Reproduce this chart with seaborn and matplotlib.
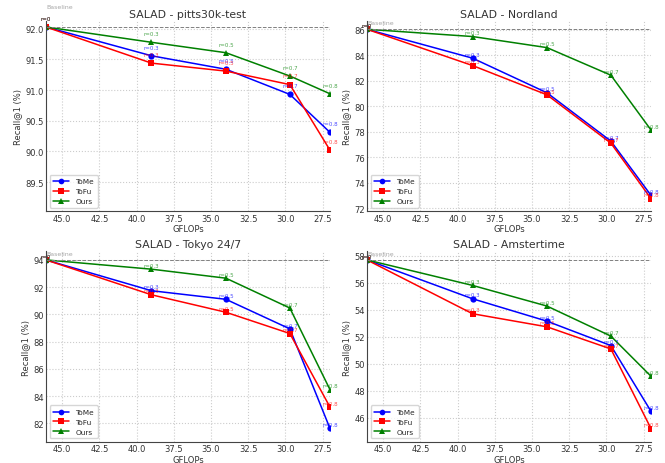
import numpy as np
import pandas as pd
import seaborn as sns
import matplotlib
matplotlib.use("Agg")
import matplotlib.pyplot as plt

# GFLOPs for each merge ratio (r = 0, 0.3, 0.5, 0.7, 0.8)
gflops = [46.1, 39.0, 34.0, 29.7, 27.0]
ratios = ["0", "0.3", "0.5", "0.7", "0.8"]

datasets = ["pitts30k-test", "Nordland", "Tokyo 24/7", "Amstertime"]
baseline = [92.03, 86.05, 94.0, 57.7]

tome_pitts = [92.03, 91.56, 91.34, 90.93, 90.31]
tofu_pitts = [92.03, 91.44, 91.31, 91.09, 90.02]
ours_pitts = [92.03, 91.78, 91.61, 91.23, 90.94]

tome_nord = [86.05, 83.78, 81.06, 77.26, 72.99]
tofu_nord = [86.05, 83.20, 80.90, 77.10, 72.73]
ours_nord = [86.05, 85.48, 84.61, 82.44, 78.13]

tome_tokyo = [94.0, 91.74, 91.11, 88.94, 81.63]
tofu_tokyo = [94.0, 91.44, 90.16, 88.60, 83.20]
ours_tokyo = [94.0, 93.32, 92.66, 90.47, 84.48]

tome_ams = [57.7, 54.82, 53.16, 51.35, 46.47]
tofu_ams = [57.7, 53.71, 52.74, 51.10, 45.19]
ours_ams = [57.7, 55.81, 54.28, 52.05, 49.07]

results = [
    [tome_pitts, tofu_pitts, ours_pitts],
    [tome_nord, tofu_nord, ours_nord],
    [tome_tokyo, tofu_tokyo, ours_tokyo],
    [tome_ams, tofu_ams, ours_ams],
]
methods = ["ToMe", "ToFu", "Ours"]
colors = ["blue", "red", "green"]
markers = ["o", "s", "^"]

sns.set_style("whitegrid", {"grid.linestyle": ":", "grid.color": "#cccccc",
                            "axes.edgecolor": "#444444"})
plt.rcParams["font.family"] = ["DejaVu Sans"]

fig, axes = plt.subplots(2, 2, figsize=(6.65, 4.64), dpi=100)
fig.subplots_adjust(left=0.069, right=0.979, top=0.953, bottom=0.045,
                    wspace=0.13, hspace=0.21)

for ax, name, base, res in zip(axes.flat, datasets, baseline, results):
    for m, vals, c, mk in zip(methods, res, colors, markers):
        df = pd.DataFrame({"GFLOPs": gflops, "Recall": vals})
        sns.lineplot(data=df, x="GFLOPs", y="Recall", color=c, marker=mk,
                     markersize=4.5, markeredgewidth=0, linewidth=1.1,
                     label=m, ax=ax)
        for x, y, r in zip(gflops, vals, ratios):
            ax.text(x, y + 0.1, "r=" + r, color=c, alpha=0.7, fontsize=4,
                    ha="center", va="bottom")
    ax.axhline(base, color="gray", linestyle="--", linewidth=0.7)
    ax.text(gflops[0], base + 0.3, "Baseline", color="gray", alpha=0.7,
            fontsize=4.5, ha="left", va="bottom")

    allv = np.concatenate(res)
    top = allv.max() + 0.05 * (allv.max() - allv.min())
    ax.set_ylim(allv.min() - 1, top)
    ax.set_xlim(max(gflops), min(gflops))

    ax.set_title("SALAD - " + name, fontsize=7.8, color="#333333", pad=3)
    ax.set_xlabel("GFLOPs", fontsize=6, color="#333333", labelpad=1)
    ax.set_ylabel("Recall@1 (%)", fontsize=6, color="#333333", labelpad=2)
    ax.tick_params(labelsize=6, colors="#333333", length=0, pad=1.5)
    ax.set_xticks([45.0, 42.5, 40.0, 37.5, 35.0, 32.5, 30.0, 27.5])
    sns.despine(ax=ax)
    ax.legend(loc="lower left", fontsize=5.3, frameon=True, markerscale=0.9,
              handlelength=2.2, borderpad=0.5, labelspacing=0.5)

fig.savefig("out.png", dpi=100)
